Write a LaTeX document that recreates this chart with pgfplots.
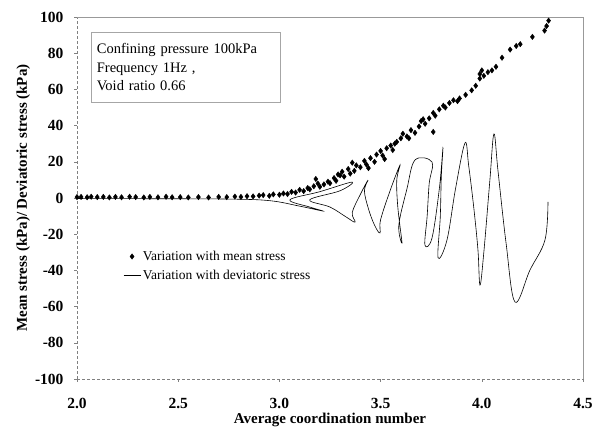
\documentclass[border=0pt]{standalone}
\usepackage{pgfplots}
\pgfplotsset{compat=1.18}
\usepackage{fontspec}
\setmainfont{Liberation Serif}
\begin{document}
\begin{tikzpicture}
\begin{axis}[
  scale only axis, width=506pt, height=362pt,
  xmin=2, xmax=4.5, ymin=-100, ymax=100,
  xtick={2,2.5,3,3.5,4,4.5}, ytick={-100,-80,...,100},
  axis line style={draw=none},
  tick style={gray, thin}, major tick length=3pt,
  tick align=outside, xtick pos=bottom, ytick pos=left,
  /pgf/number format/assume math mode=true,
  ticklabel style={font=\bfseries\fontsize{15.5}{15.5}\selectfont},
  xticklabel style={yshift=-13pt, /pgf/number format/.cd, fixed, fixed zerofill, precision=1},
  yticklabel style={xshift=-7pt, /pgf/number format/.cd, fixed, precision=0},
  xlabel={Average coordination number},
  ylabel={Mean stress (kPa)/ Deviatoric stress (kPa)},
  label style={font=\bfseries\fontsize{15}{16}\selectfont},
  xlabel style={yshift=3pt},
  ylabel style={yshift=-2pt},
  legend style={draw=none, fill=none, at={(rel axis cs:0.085,0.365)}, anchor=north west,
    font=\fontsize{13.5}{15}\selectfont, row sep=4pt},
  legend cell align=left,
  clip=false,
]
\coordinate (sw) at (rel axis cs:0,0);
\coordinate (ne) at (rel axis cs:1,1);
\draw[gray, densely dashed, thin] (rel axis cs:0,0) -- (rel axis cs:0,1);
\draw[gray, densely dashed, thin] (rel axis cs:0,0) -- (rel axis cs:1,0);
\draw[gray!80, thin] (rel axis cs:0,1) -- (rel axis cs:1,1) -- (rel axis cs:1,0);
\addplot[only marks, mark=diamond*, mark size=2.7pt, black] coordinates {
(2.00,0.5)(2.02,0.6)(2.05,0.4)(2.07,0.7)(2.10,0.5)(2.13,0.6)(2.16,0.3)(2.19,0.6)
(2.22,0.4)(2.26,0.7)(2.29,0.5)(2.33,0.3)(2.36,0.6)(2.40,0.4)(2.44,0.7)(2.47,0.4)
(2.51,0.5)(2.55,0.3)(2.60,0.5)(2.65,0.3)(2.70,0.6)(2.74,0.5)(2.78,0.8)(2.81,0.6)
(2.84,1.0)(2.87,0.9)(2.90,1.3)(2.92,1.6)(2.95,1.2)(2.97,2.0)(3.00,1.8)(3.02,2.5)
(3.04,2.2)(3.06,3.4)(3.08,3.0)(3.10,4.5)(3.12,3.8)(3.14,5.5)(3.15,4.8)(3.17,6.5)
(3.19,8.0)(3.20,6.2)(3.22,7.5)(3.24,9.0)(3.25,8.2)(3.27,11.0)(3.28,9.5)(3.30,12.5)
(3.31,14.5)(3.32,11.8)(3.34,16.0)(3.35,13.5)(3.37,15.0)(3.38,18.0)(3.40,17.0)
(3.42,20.5)(3.43,18.5)(3.45,22.0)(3.47,20.0)(3.48,24.0)(3.50,26.0)(3.51,23.5)
(3.53,27.5)(3.55,29.0)(3.56,26.5)(3.58,31.0)(3.60,33.0)(3.61,35.5)(3.63,34.0)
(3.65,37.5)(3.67,36.0)(3.69,39.5)(3.70,42.5)(3.72,41.0)(3.74,44.0)(3.76,47.0)
(3.77,45.5)(3.76,36.5)(3.79,49.0)(3.81,51.0)(3.84,52.5)(3.86,54.0)(3.89,55.0)
(3.92,57.0)(3.95,59.5)(3.97,62.0)(3.99,66.0)(3.99,68.5)(4.00,70.5)(4.01,67.5)
(4.03,69.5)(4.05,70.5)(4.07,72.5)(4.10,77.5)(4.14,82.0)(4.17,84.0)(4.19,85.0)
(4.25,89.0)(4.31,92.5)(4.32,95.0)(4.33,98.0)(3.18,10.5)(3.29,13.0)(3.36,19.5)
(3.44,16.5)(3.52,21.5)(3.57,30.0)(3.64,33.0)(3.71,43.5)(3.82,50.0)(3.88,53.5)
};
\addlegendentry{Variation with mean stress}
\addplot[black, semithick, smooth, tension=0.6] coordinates {
(2.000,-0.3)(2.361,-0.4)(2.756,-0.6)(2.954,-1.5)(3.100,-4.5)(3.215,-7.2)(3.150,-5.0)
(3.052,-1.0)(3.200,3.5)(3.359,8.8)(3.300,4.0)(3.150,-1.0)(3.250,-5.0)(3.330,-10.5)(3.374,-13.3)
(3.360,-8.0)(3.400,2.0)(3.438,9.9)(3.420,4.0)(3.440,-6.0)(3.470,-15.0)(3.497,-19.3)
(3.500,-12.0)(3.550,5.0)(3.596,18.2)(3.580,10.0)(3.585,-5.0)(3.606,-24.9)(3.590,-15.0)
(3.630,5.0)(3.670,21.0)(3.754,19.9)(3.740,8.0)(3.730,-10.0)(3.719,-26.0)(3.754,-22.1)
(3.790,5.0)(3.808,27.6)(3.800,12.0)(3.795,-10.0)(3.784,-33.1)(3.828,-23.2)(3.870,5.0)
(3.917,30.4)(3.935,18.0)(3.960,-5.0)(3.981,-28.7)(3.991,-48.1)(4.010,-30.0)(4.040,10.0)
(4.060,35.4)(4.080,15.0)(4.120,-25.0)(4.164,-57.5)(4.238,-39.8)(4.312,-23.2)(4.327,-2.2)
};
\addlegendentry{Variation with deviatoric stress}
\node[draw=gray!70, thin, anchor=north west, align=left, inner sep=5pt,
  font=\fontsize{14.5}{18.5}\selectfont, minimum width=189pt, minimum height=70pt, text width=178pt]
  at (rel axis cs:0.028,0.958) {Confining pressure 100kPa\\Frequency 1Hz ,\\Void ratio 0.66};
\end{axis}
\pgfresetboundingbox
\path ([shift={(-77pt,-48pt)}]sw) rectangle ([shift={(10pt,17pt)}]ne);
\end{tikzpicture}
\end{document}
